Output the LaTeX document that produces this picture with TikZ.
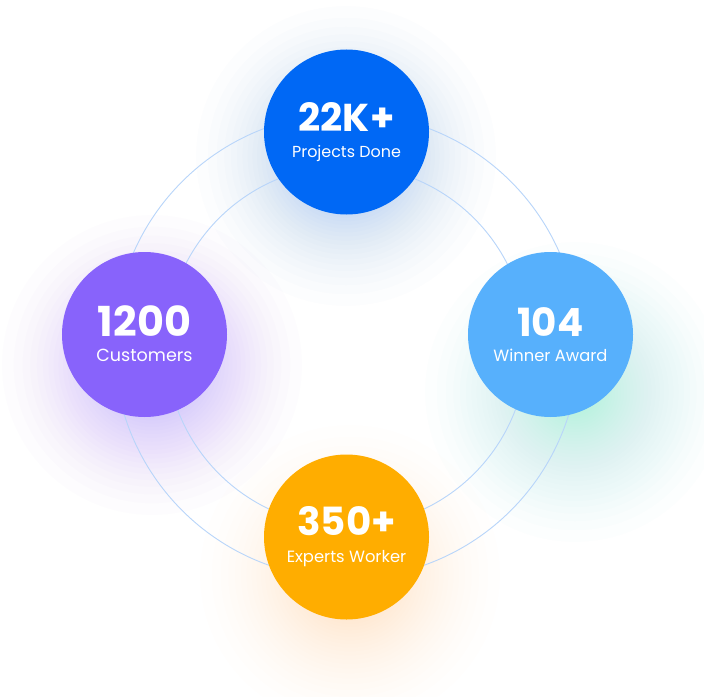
\documentclass[tikz,border=0pt]{standalone}
\usepackage{fontspec}
\setmainfont{Poppins}
\definecolor{cblue}{HTML}{0068F5}
\definecolor{cpurple}{HTML}{8863FB}
\definecolor{clight}{HTML}{57B0FC}
\definecolor{corange}{HTML}{FFAD00}
\definecolor{cring}{HTML}{B8D5FA}
\definecolor{cmint}{HTML}{45F2AE}
\newcommand{\glowat}[5]{% color, x, y, radius, per-layer opacity
  \foreach \i in {1,...,39}{
    \fill[#1, opacity=#5] (#2,#3) circle ({#4bp*(1-sqrt(\i/40))});
  }}
\begin{document}
\begin{tikzpicture}[x=1bp,y=-1bp,
  stat/.style={circle, minimum size=165bp, inner sep=0pt, text=white, align=center},
  ring/.style={draw=cring, line width=0.9bp}]
\useasboundingbox[fill=white] (0,0) rectangle (704,697);
% glows
\glowat{cblue}{346}{156}{178}{0.012}
\glowat{cpurple}{152}{365}{178}{0.017}
\glowat{cmint}{575}{392}{178}{0.011}
\glowat{corange}{350}{575}{178}{0.007}
% rings
\coordinate (rc) at (346.5,346);
\draw[ring] (rc) circle (180.5bp);
\draw[ring] (rc) circle (232.5bp);
% circles
\node[stat, fill=cblue] (top) at (346.5,132) {};
\node[stat, fill=cpurple] (left) at (144.5,334.5) {};
\node[stat, fill=clight] (right) at (550.5,334.5) {};
\node[stat, fill=corange] (bottom) at (346.5,537) {};
% texts
\foreach \c/\n/\l/\dn/\dl/\fn/\fl in {top/22K+/Projects Done/0/25.5/39/16, left/1200/Customers/-1.5/27/41.5/17.6, right/104/Winner Award/-1.5/26.5/39/16.4, bottom/350+/Experts Worker/2/25.5/39/16.4}{
  \node[text=white, anchor=base, font=\fontsize{\fn}{\fn}\selectfont\bfseries] (\c-n) at ([yshift=\dn bp]\c.center) {\n};
  \node[text=white, anchor=base, font=\fontsize{\fl}{\fl}\selectfont] (\c-l) at ([yshift=-\dl bp]\c.center) {\l};
}
\end{tikzpicture}
\end{document}
